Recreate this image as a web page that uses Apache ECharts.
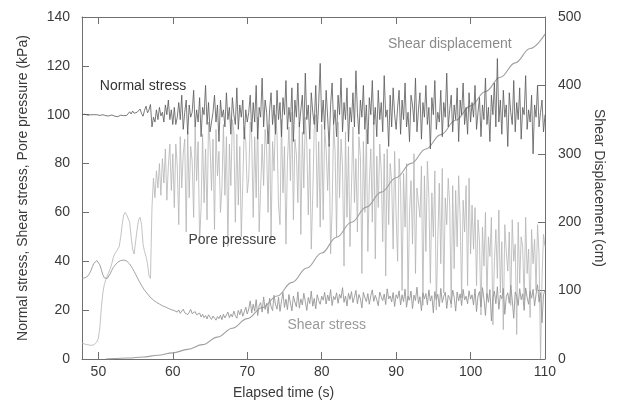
<!DOCTYPE html>
<html><head><meta charset="utf-8">
<script src="https://cdn.jsdelivr.net/npm/echarts@6/dist/echarts.min.js"></script>
<style>html,body{margin:0;padding:0;background:#fff}#c{width:617px;height:405px}</style>
</head><body><div id="c"></div>
<script>
// sampling grid of the recorded signals (s)
const t0 = 47.8, dt = 0.2;
const xTicks = [50, 60, 70, 80, 90, 100, 110];

// Normal stress (kPa)
const normalStress = [
 100,100,100.2,100,99.8,100,100,99.9,100,100.1,100,99.8,99.7,99.9,100,99.8,99.6,99.8,99.5,99.7,99.9,99.6,
 99.4,99.6,99.2,99.5,99.8,99.3,99.6,100.2,99.7,100.4,101.2,100.3,101.5,100.6,99.8,
 101,100.2,102.3,100.5,99.4,101.8,103.5,100.8,102,104.2,
 95,99,97,102,98,103,99.5,101,97,104,100,106,98,102,96,
 103,96,99,105,98,108,94,101,106,92,
 104,99,101,110,95,102,97,107,91,103,
 100,112,96,105,93,97,101,108,97,104,
 89,106,99,102,95,109,98,103,92,107,
 100,96,111,94,104,99,106,90,102,97,
 101,108,93,105,97,112,90,103,99,115,
 95,106,101,88,102,109,96,104,92,110,
 98,105,91,107,100,114,94,103,97,111,
 89,106,99,113,95,102,108,92,117,98,
 104,90,109,101,96,112,93,105,121,97,
 106,94,110,99,87,104,113,96,102,91,
 108,100,115,93,105,98,111,89,103,97,
 109,95,118,101,92,106,99,112,94,104,
 88,107,100,114,96,103,91,110,98,105,
 93,116,99,102,87,108,95,111,100,94,
 103,110,92,106,98,113,95,101,89,108,
 104,97,115,93,102,109,90,105,99,112,
 96,103,86,107,100,114,94,101,97,110,
 91,105,99,117,95,102,108,93,104,98,
 111,89,106,100,113,96,103,92,109,97,
 105,99,112,94,101,107,91,104,98,115,
 96,103,89,108,100,113,95,123,97,106,
 92,110,99,104,87,109,101,96,114,93,
 105,98,111,90,103,100,116,94,102,97,
 108,84,104,99,112,95,101,106,93,100
];

// Pore pressure (kPa)
const porePressure = [
 6.5,6.3,6.1,6,5.8,5.7,5.6,5.6,5.8,6.2,7,8.5,13,21,27,30.5,32.5,34,35.5,37,39,41.5,
 43,44,44.5,46,50,55,59,60,59,59.5,56,50,45,43,48,53,57,58,55,47,44,42,39,34,33,
 62,74,66,77,70,80,67,82,72,86,65,79,88,69,84,
 62,88,79,55,91,70,84,90,52,93,
 66,87,81,58,95,73,89,48,62,92,
 64,86,57,97,88,69,90,53,94,75,
 85,60,70,96,67,91,46,88,71,98,
 93,56,92,63,87,50,72,95,89,68,
 74,97,90,58,91,66,99,52,70,88,
 71,94,86,60,96,49,89,77,100,92,
 63,55,98,68,87,47,81,95,73,101,
 57,90,84,64,97,51,93,70,99,88,
 59,86,45,67,94,100,62,89,54,96,
 57,94,86,69,88,43,61,96,85,50,
 97,66,90,79,38,93,58,87,46,70,
 95,64,82,52,91,83,35,89,60,94,
 44,72,86,56,97,41,83,62,88,77,
 48,84,34,86,55,80,73,45,85,59,
 40,82,71,28,76,54,80,24,60,73,
 47,84,35,70,64,58,79,22,75,44,
 81,66,31,68,50,77,20,49,72,39,
 78,27,66,55,74,63,21,71,37,69,
 46,75,58,25,65,52,71,30,74,43,
 63,45,62,30,57,48,18,54,38,60,
 25,50,42,58,14,40,53,33,61,27,
 48,12,55,44,36,52,22,57,40,47,
 10,56,31,50,46,24,58,35,45,17,
 53,39,49,28,55,43,0,33,51,46
];

// Shear stress (kPa)
const shearStress = [
 33,33,33.2,33.5,34,35,36.2,37.8,39.2,40,40.3,39.8,38.5,36.5,34.5,33.2,32.8,33,33.8,35,
 36.3,37.4,38.3,39,39.6,40,40.3,40.5,40.5,40.4,40.1,39.6,38.9,38,37,35.9,34.7,33.5,32.3,31.2,
 30.1,29.1,28.2,27.4,26.6,25.9,25.2,24.6,24.1,23.6,23.2,22.8,22.5,22.2,21.8,21.7,21.3,21.1,20.7,20.9,
 20.2,20.5,
 19.8,20.6,19.2,20.1,18.7,19.5,20.4,18.9,19.6,18.2,
 19.1,20.3,18.6,17.9,19.4,18.1,17.5,18.8,17.2,18.3,
 16.9,17.8,16.4,18.1,17.3,16.2,17.6,16.8,15.9,17.4,
 16.5,17.9,16.1,18.3,16.8,17.5,19.2,16.9,18.4,17.2,
 19.6,17.8,16.7,19.9,18.1,20.4,17.5,19.3,21.2,18.4,
 20.5,23.8,18.9,22.4,19.6,24.3,17.8,21.9,23.1,19.2,
 25.4,20.3,22.8,18.6,24.9,21.5,19.8,26.1,22.2,20.4,
 25.3,19.5,23.7,27.2,21.1,24.5,20.2,26.4,22.9,19.7,
 25.8,23.3,21.4,27.5,20.8,24.6,22.1,26.9,23.5,19.9,
 25.2,22.7,27.8,21.6,24.8,20.5,26.3,23.9,22.4,25.7,
 24.1,27.3,22.5,26.2,23.8,28.4,21.9,25.6,24.3,27.1,
 22.8,26.5,24.9,29.2,23.2,25.8,21.7,26.9,24.4,27.6,
 23.1,25.3,28.1,22.6,26.4,24.7,20.9,27.3,25.1,23.5,
 26.8,22.4,25.9,28.3,23.6,26.1,24.2,21.8,27.4,25.5,
 23.9,26.6,22.3,28.7,24.6,25.8,23.4,27.2,21.5,26.3,
 24.8,27.9,22.1,26.3,23.5,28.6,21.2,25.7,24.1,27.8,
 20.6,26.2,23.9,29.4,22.7,25.5,19.8,27.1,24.6,26.8,
 22.2,28.3,23.7,25.9,18.9,27.6,24.3,26.5,21.4,28.9,
 23.1,25.6,27.3,20.7,26.1,24.8,22.5,28.2,25.3,19.6,
 27.4,23.8,26.7,21.9,28.5,24.2,25.7,22.6,27.9,24.5,
 26.3,22.1,28.7,19.4,25.8,27.6,21.3,29.2,24.5,17.8,
 26.9,23.2,28.4,15.6,25.1,27.8,22.6,29.6,20.4,26.2,
 24.7,28.9,18.3,25.5,27.1,22.8,30.2,24.1,16.7,27.4,
 25.6,21.9,28.8,24.3,26.7,19.9,29.1,25.2,22.4,27.8,
 24.9,28.5,21.7,26.6,30.4,23.3,27.2,14.8,26.4,28.1
];

// Shear displacement (cm), right axis
const dispTimes = [51,52,54,56,58,60,62,64,66,68,70,72,74,76,78,80,82,84,86,88,90,92,94,96,98,100,102,104,106,108,110];
const dispValues = [0,0.5,1.5,3,5.5,9,14,21,32,45,59,75,92,112,133,155,178,200,222,244,265,286,307,328,349,370,391,412,433,454,475];

// in-plot series labels (anchored in data coordinates of the left axis)
const seriesLabels = [
  {text: 'Normal stress', t: 50.2, v: 111.5, color: '#333333'},
  {text: 'Pore pressure', t: 62.1, v: 48.5, color: '#444444'},
  {text: 'Shear stress', t: 75.4, v: 14, color: '#9a9a9a'},
  {text: 'Shear displacement', t: 88.9, v: 129, color: '#8a8a8a'}
];

function pairs(arr) { return arr.map((v, i) => [+(t0 + i * dt).toFixed(1), v]); }

const font = '"Liberation Sans", Arial, Helvetica, sans-serif';
const axisColor = '#707070';
const textColor = '#3a3a3a';
const chart = echarts.init(document.getElementById('c'), null, {renderer: 'canvas'});

function tickFmt(v) { return Math.abs(v % 10) < 1e-6 ? String(v) : ''; }

const option = {
  animation: false,
  grid: {left: 82, right: 72, top: 17, bottom: 46},
  xAxis: [
    {
      type: 'value', min: 47.8, max: 110, position: 'bottom',
      axisLine: {show: true, onZero: false, lineStyle: {color: axisColor, width: 1}},
      axisTick: {show: true, inside: true, length: 7, customValues: xTicks, lineStyle: {color: axisColor}},
      axisLabel: {show: true, customValues: xTicks, formatter: tickFmt, margin: 6, fontSize: 14, color: textColor, fontFamily: font},
      splitLine: {show: false},
      name: 'Elapsed time (s)', nameLocation: 'middle', nameGap: 27,
      nameTextStyle: {fontSize: 14, color: textColor, fontFamily: font, padding: [0, 60, 0, 0]}
    },
    {
      type: 'value', min: 47.8, max: 110, position: 'top',
      axisLine: {show: true, onZero: false, lineStyle: {color: axisColor, width: 1}},
      axisTick: {show: true, inside: true, length: 7, customValues: xTicks, lineStyle: {color: axisColor}},
      axisLabel: {show: false},
      splitLine: {show: false}
    }
  ],
  yAxis: [
    {
      type: 'value', min: 0, max: 140, interval: 20, position: 'left',
      axisLine: {show: true, onZero: false, lineStyle: {color: axisColor, width: 1}},
      axisTick: {show: true, inside: true, length: 7, lineStyle: {color: axisColor}},
      axisLabel: {margin: 12, fontSize: 14, color: textColor, fontFamily: font},
      splitLine: {show: false},
      name: 'Normal stress, Shear stress, Pore pressure (kPa)', nameLocation: 'middle', nameGap: 52,
      nameTextStyle: {fontSize: 14, color: textColor, fontFamily: font}
    },
    {
      type: 'value', min: 0, max: 500, interval: 100, position: 'right',
      axisLine: {show: true, onZero: false, lineStyle: {color: axisColor, width: 1}},
      axisTick: {show: true, inside: true, length: 7, lineStyle: {color: axisColor}},
      axisLabel: {margin: 13, fontSize: 14, color: textColor, fontFamily: font},
      splitLine: {show: false},
      name: 'Shear Displacement (cm)', nameLocation: 'middle', nameGap: 47, nameRotate: -90,
      nameTextStyle: {fontSize: 14, color: textColor, fontFamily: font}
    }
  ],
  series: [
    {name: 'Pore pressure', type: 'line', data: pairs(porePressure), showSymbol: false, symbol: 'none',
     lineStyle: {color: '#b4b4b4', width: 0.8}, silent: true, z: 2},
    {name: 'Shear stress', type: 'line', data: pairs(shearStress), showSymbol: false, symbol: 'none',
     lineStyle: {color: '#969696', width: 0.9}, silent: true, z: 3},
    {name: 'Shear displacement', type: 'line', yAxisIndex: 1,
     data: dispTimes.map((t, i) => [t, dispValues[i]]), showSymbol: false, symbol: 'none',
     smooth: 0.4, smoothMonotone: 'x',
     lineStyle: {color: '#a0a0a0', width: 1.1}, silent: true, z: 4},
    {name: 'Normal stress', type: 'line', data: pairs(normalStress), showSymbol: false, symbol: 'none',
     lineStyle: {color: '#585858', width: 0.8}, silent: true, z: 5}
  ]
};
chart.setOption(option);

const g = seriesLabels.map(l => {
  const p = chart.convertToPixel({xAxisIndex: 0, yAxisIndex: 0}, [l.t, l.v]);
  return {type: 'text', x: p[0], y: p[1], silent: true, z: 100,
    style: {text: l.text, fill: l.color, fontSize: 14, fontFamily: font, align: 'left', verticalAlign: 'middle'}};
});
chart.setOption({graphic: g});
</script>
</body></html>
